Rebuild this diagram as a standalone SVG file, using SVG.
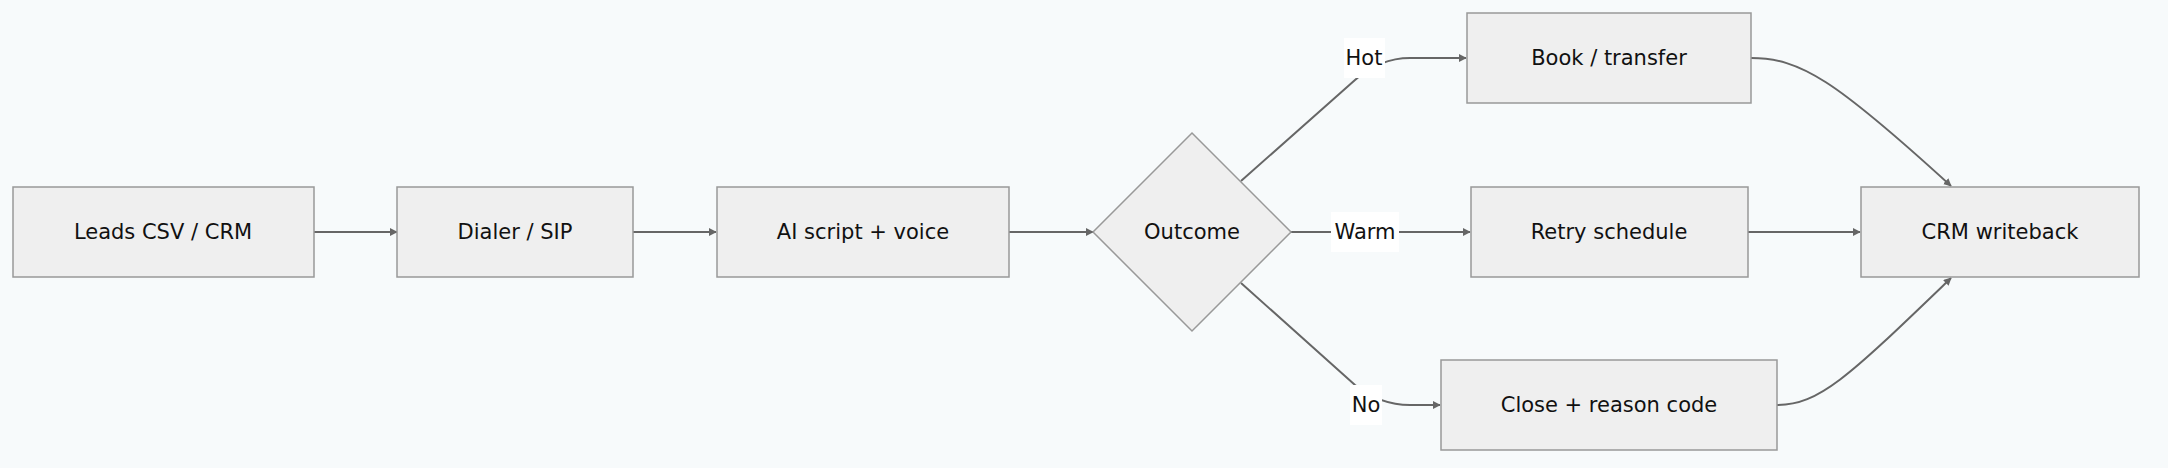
<svg xmlns="http://www.w3.org/2000/svg" width="2168" height="468" viewBox="0 0 2168 468">
<style>
.n{fill:#efefef;stroke:#999;stroke-width:1.5}
.t{font-family:"DejaVu Sans",Verdana,sans-serif;font-size:21px;fill:#111;text-anchor:middle;dominant-baseline:central}
.e{fill:none;stroke:#666;stroke-width:2}
.lb{fill:#fff}
</style>
<defs><marker id="a" viewBox="0 0 10 10" refX="9" refY="5" markerWidth="8" markerHeight="8" markerUnits="userSpaceOnUse" orient="auto"><path d="M0,0L10,5L0,10z" fill="#666"/></marker></defs>
<rect width="2168" height="468" fill="#f7fafb"/>
<g id="edges">
<path class="e" marker-end="url(#a)" d="M314,232H397"/>
<path class="e" marker-end="url(#a)" d="M633,232H716"/>
<path class="e" marker-end="url(#a)" d="M1009,232H1093"/>
<path class="e" marker-end="url(#a)" d="M1241,181L1355,80Q1380,58 1410,58L1466,58"/>
<path class="e" marker-end="url(#a)" d="M1290,232H1470"/>
<path class="e" marker-end="url(#a)" d="M1241,283L1355,385Q1380,405 1410,405L1440,405"/>
<path class="e" marker-end="url(#a)" d="M1751,58C1800,58 1835,80 1951,186"/>
<path class="e" marker-end="url(#a)" d="M1748,232H1860"/>
<path class="e" marker-end="url(#a)" d="M1777,405C1820,405 1850,375 1951,278"/>
<rect class="lb" x="1344" y="38" width="41" height="40"/><text class="t" x="1364" y="58">Hot</text>
<rect class="lb" x="1331" y="212" width="68" height="40"/><text class="t" x="1365" y="232">Warm</text>
<rect class="lb" x="1350" y="385" width="32" height="40"/><text class="t" x="1366" y="405">No</text>
</g>
<g id="leads"><rect class="n" x="13" y="187" width="301" height="90"/><text class="t" x="163" y="232">Leads CSV / CRM</text></g>
<g id="dialer"><rect class="n" x="397" y="187" width="236" height="90"/><text class="t" x="515" y="232">Dialer / SIP</text></g>
<g id="ai"><rect class="n" x="717" y="187" width="292" height="90"/><text class="t" x="863" y="232">AI script + voice</text></g>
<g id="outcome"><path class="n" d="M1192,133L1291,232L1192,331L1093,232Z"/><text class="t" x="1192" y="232">Outcome</text></g>
<g id="book"><rect class="n" x="1467" y="13" width="284" height="90"/><text class="t" x="1609" y="58">Book / transfer</text></g>
<g id="retry"><rect class="n" x="1471" y="187" width="277" height="90"/><text class="t" x="1609" y="232">Retry schedule</text></g>
<g id="close"><rect class="n" x="1441" y="360" width="336" height="90"/><text class="t" x="1609" y="405">Close + reason code</text></g>
<g id="crm"><rect class="n" x="1861" y="187" width="278" height="90"/><text class="t" x="2000" y="232">CRM writeback</text></g>
</svg>
